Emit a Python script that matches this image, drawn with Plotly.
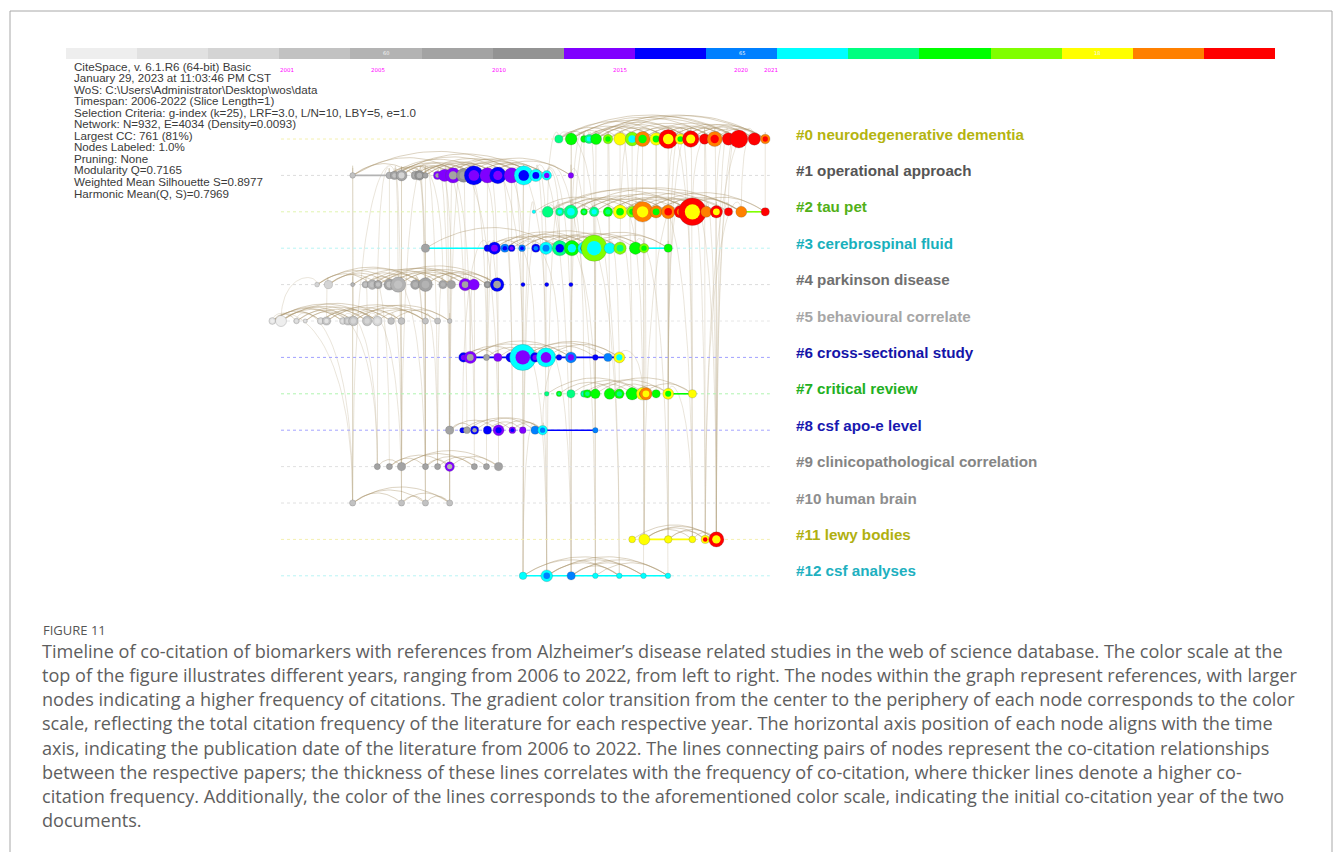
import numpy as np
import plotly.graph_objects as go

# ---------------- data ----------------
YEARS = list(range(2006, 2023))
YEAR_COLORS = ['#eeeeee', '#e1e1e1', '#d4d4d4', '#c2c2c2', '#b3b3b3', '#a3a3a3', '#939393',
               '#8000ff', '#0000ff', '#0080ff', '#00ffff', '#00ff80', '#00ff00', '#80ff00',
               '#ffff00', '#ff8000', '#ff0000']
BAR_NOTE_YEARS = [2010, 2015, 2020]
BAR_NOTE_TEXT = ['60', '65', '18']
TIMELINE_TICKS = [2001, 2005, 2010, 2015, 2020, 2021]
TIMELINE_SPAN = [2001, 2021.2]

CLUSTER_LABELS = ['#0 neurodegenerative dementia', '#1 operational approach', '#2 tau pet',
                  '#3 cerebrospinal fluid', '#4 parkinson disease', '#5 behavioural correlate',
                  '#6 cross-sectional study', '#7 critical review', '#8 csf apo-e level',
                  '#9 clinicopathological correlation', '#10 human brain', '#11 lewy bodies',
                  '#12 csf analyses']
CLUSTER_LABEL_COLORS = ['#b4b410', '#555555', '#52b018', '#18b0bc', '#707070', '#a6a6a6',
                        '#1414a8', '#22b022', '#1818b0', '#858585', '#8e8e8e', '#b0b010', '#20b0c0']
ROW_LINE_COLORS = ['#f4f0b0', '#dcdcdc', '#e0f4b0', '#b8f4f4', '#dcdcdc', '#e6e6e6', '#a0a0ff',
                   '#b0f4b0', '#a4a4ff', '#e0e0e0', '#e0e0e0', '#f4f0b0', '#b8f4f4']

# nodes: (year position, radius px, ring citation year, core citation year)
NODES_0 = [(2012.48, 4.1, 2017, 2017), (2012.99, 5.9, 2018, 2018), (2013.52, 3.4, 2018, 2018),
           (2013.73, 4.5, 2017, 2016), (2014.02, 5.5, 2018, 2018), (2014.51, 4.8, 2019, 2018),
           (2015.01, 6.2, 2020, 2020), (2015.51, 6.9, 2019, 2016), (2015.94, 7.6, 2021, 2018),
           (2016.50, 6.2, 2020, 2018), (2017.00, 9.6, 2022, 2020), (2017.50, 5.2, 2020, 2018),
           (2017.93, 8.3, 2022, 2020), (2018.50, 5.2, 2022, 2022), (2018.92, 7.6, 2021, 2022),
           (2019.49, 6.2, 2022, 2022), (2019.92, 9.0, 2022, 2022), (2020.56, 6.2, 2022, 2022),
           (2021.01, 4.8, 2021, 2022)]
NODES_1 = [(2003.96, 2.8, 2009, 2009), (2005.48, 3.4, 2010, 2010), (2005.69, 4.1, 2011, 2009),
           (2005.98, 5.5, 2011, 2008), (2006.55, 4.1, 2011, 2010), (2006.72, 4.8, 2012, 2010),
           (2006.97, 2.8, 2011, 2011), (2007.47, 4.1, 2013, 2011), (2007.76, 6.2, 2013, 2013),
           (2008.11, 7.6, 2013, 2011), (2008.54, 6.9, 2012, 2011), (2008.97, 9.6, 2014, 2013),
           (2009.53, 7.6, 2013, 2013), (2009.96, 8.3, 2014, 2013), (2010.53, 7.6, 2013, 2013),
           (2011.03, 9.6, 2016, 2014), (2011.53, 6.2, 2016, 2014), (2011.98, 4.8, 2016, 2013),
           (2012.98, 2.8, 2013, 2013)]
NODES_2 = [(2011.45, 1.8, 2016, 2016), (2012.02, 5.5, 2017, 2017), (2012.52, 4.1, 2017, 2016),
           (2012.98, 6.9, 2017, 2016), (2013.52, 3.4, 2018, 2017), (2013.94, 4.8, 2017, 2016),
           (2014.51, 4.8, 2018, 2017), (2015.01, 6.9, 2020, 2018), (2015.51, 5.5, 2019, 2018),
           (2015.94, 10.3, 2021, 2020), (2016.50, 6.2, 2021, 2018), (2017.00, 6.9, 2021, 2022),
           (2017.50, 6.2, 2022, 2021), (2018.00, 13.8, 2022, 2020), (2018.57, 5.5, 2021, 2021),
           (2018.99, 6.2, 2022, 2020), (2019.49, 4.1, 2022, 2022), (2020.02, 5.5, 2021, 2021),
           (2021.01, 4.1, 2022, 2022)]
NODES_3 = [(2006.97, 4.1, 2011, 2011), (2009.53, 3.4, 2014, 2014), (2009.82, 6.2, 2014, 2013),
           (2010.25, 4.1, 2015, 2014), (2010.53, 3.4, 2014, 2013), (2010.96, 3.4, 2015, 2014),
           (2011.53, 4.1, 2014, 2015), (2011.95, 6.2, 2016, 2015), (2012.52, 7.6, 2017, 2014),
           (2013.02, 7.6, 2018, 2016), (2013.52, 6.2, 2016, 2014), (2013.94, 13.1, 2019, 2016),
           (2014.58, 5.5, 2016, 2016), (2015.01, 6.2, 2019, 2017), (2015.65, 6.2, 2018, 2018),
           (2016.00, 4.8, 2019, 2018), (2017.00, 4.1, 2018, 2018)]
NODES_4 = [(2002.49, 2.4, 2008, 2008), (2002.96, 4.1, 2008, 2008), (2003.96, 2.1, 2010, 2010),
           (2004.49, 3.4, 2010, 2009), (2004.77, 4.8, 2010, 2009), (2005.01, 4.1, 2011, 2009),
           (2005.48, 5.5, 2011, 2009), (2005.84, 7.6, 2010, 2009), (2006.55, 4.8, 2011, 2010),
           (2006.97, 6.9, 2011, 2010), (2007.69, 4.1, 2011, 2010), (2008.04, 4.1, 2011, 2011),
           (2008.61, 6.2, 2013, 2011), (2008.97, 5.5, 2013, 2013), (2009.53, 3.4, 2012, 2011),
           (2009.93, 6.9, 2014, 2011), (2011.00, 2.1, 2014, 2014), (2011.98, 2.1, 2014, 2014),
           (2012.98, 2.1, 2014, 2014)]
NODES_5 = [(2000.64, 3.4, 2007, 2006), (2001.00, 5.5, 2006, 2006), (2001.64, 2.8, 2008, 2007),
           (2002.00, 2.1, 2008, 2007), (2002.64, 3.4, 2008, 2007), (2002.88, 4.1, 2009, 2007),
           (2003.56, 3.4, 2008, 2007), (2003.77, 4.1, 2009, 2008), (2003.99, 4.8, 2009, 2008),
           (2004.56, 4.8, 2009, 2008), (2004.98, 4.8, 2008, 2007), (2005.55, 3.4, 2009, 2009),
           (2005.98, 3.4, 2009, 2009), (2006.97, 3.1, 2009, 2009), (2007.47, 3.1, 2009, 2009),
           (2007.97, 2.4, 2009, 2009)]
NODES_6 = [(2008.54, 4.8, 2014, 2013), (2008.82, 6.2, 2013, 2011), (2009.49, 3.1, 2011, 2011),
           (2009.96, 4.1, 2013, 2013), (2010.49, 4.8, 2014, 2014), (2010.99, 13.1, 2016, 2013),
           (2011.50, 4.8, 2014, 2013), (2011.95, 9.6, 2016, 2013), (2012.49, 2.8, 2014, 2014),
           (2012.98, 5.5, 2015, 2013), (2013.99, 2.8, 2014, 2014), (2014.51, 4.1, 2015, 2015),
           (2014.98, 5.5, 2020, 2016)]
NODES_7 = [(2011.98, 2.4, 2017, 2017), (2012.49, 2.8, 2018, 2017), (2012.98, 4.1, 2017, 2017),
           (2013.52, 3.4, 2017, 2016), (2013.66, 4.1, 2018, 2017), (2013.99, 4.8, 2018, 2018),
           (2014.58, 5.5, 2018, 2018), (2014.98, 4.8, 2018, 2017), (2015.51, 6.2, 2018, 2018),
           (2015.94, 6.2, 2020, 2018), (2016.08, 6.2, 2021, 2020), (2016.50, 4.1, 2018, 2018),
           (2017.00, 5.5, 2020, 2018), (2018.00, 4.1, 2020, 2020)]
NODES_8 = [(2007.97, 4.1, 2011, 2011), (2008.50, 2.8, 2014, 2014), (2008.68, 3.4, 2011, 2011),
           (2009.00, 4.1, 2014, 2011), (2009.53, 4.1, 2014, 2014), (2009.99, 5.5, 2013, 2014),
           (2010.56, 3.4, 2013, 2014), (2010.99, 3.4, 2013, 2013), (2011.50, 4.1, 2015, 2015),
           (2011.81, 4.8, 2016, 2015), (2013.99, 2.8, 2015, 2015)]
NODES_9 = [(2004.98, 3.1, 2011, 2011), (2005.48, 3.1, 2011, 2011), (2005.98, 4.1, 2011, 2011),
           (2006.97, 3.1, 2011, 2011), (2007.47, 3.1, 2011, 2011), (2007.97, 4.8, 2013, 2010),
           (2008.99, 3.1, 2011, 2011), (2009.49, 3.1, 2011, 2011), (2009.99, 4.1, 2011, 2011)]
NODES_10 = [(2003.96, 3.1, 2009, 2009), (2005.98, 3.1, 2009, 2009), (2006.97, 3.1, 2009, 2009),
            (2007.97, 3.1, 2009, 2009)]
NODES_11 = [(2015.51, 3.4, 2020, 2020), (2016.01, 5.5, 2020, 2020), (2017.00, 3.8, 2020, 2020),
            (2018.00, 3.4, 2020, 2020), (2018.53, 4.1, 2020, 2022), (2018.99, 7.6, 2022, 2020)]
NODES_12 = [(2011.00, 3.8, 2016, 2016), (2011.98, 5.9, 2016, 2015), (2012.99, 4.1, 2015, 2015),
            (2013.99, 2.8, 2016, 2016), (2014.98, 2.8, 2016, 2016), (2015.98, 2.8, 2016, 2016),
            (2016.99, 2.8, 2016, 2016)]

# solid row segments: (cluster, from year, to year, colour year)
SEGMENTS = [(1, 2003.96, 2005.48, 2010), (2, 2020.02, 2021.01, 2019), (3, 2006.97, 2009.53, 2016),
            (3, 2016.00, 2017.00, 2016), (6, 2008.54, 2014.98, 2014), (7, 2017.00, 2018.00, 2018),
            (8, 2011.81, 2013.99, 2014), (11, 2016.01, 2018.00, 2020), (12, 2011.00, 2016.99, 2016)]

# co-citation arcs inside clusters (node index pairs)
ARCS_0 = [(0, 10), (1, 12), (3, 16), (5, 18), (6, 14), (8, 16), (10, 17), (12, 18), (2, 9), (4, 11),
          (7, 13), (9, 15), (11, 18), (1, 8), (0, 6), (13, 17), (6, 10), (3, 12),
          (0, 3), (1, 5), (2, 7), (4, 9), (5, 10), (7, 12), (8, 13), (9, 14), (10, 15), (11, 16),
          (12, 17), (14, 18), (0, 16), (2, 18), (1, 14), (4, 15)]
ARCS_1 = [(0, 15), (1, 12), (2, 14), (3, 11), (4, 9), (5, 13), (7, 16), (8, 17), (9, 15), (10, 18),
          (11, 16), (12, 17), (3, 8), (1, 6), (6, 13), (2, 10),
          (0, 4), (1, 5), (2, 7), (3, 9), (4, 10), (5, 11), (6, 12), (7, 13), (8, 14), (9, 16),
          (11, 17), (12, 18), (0, 10), (2, 16), (5, 15)]
ARCS_2 = [(1, 13), (3, 11), (5, 15), (7, 17), (9, 18), (2, 9), (4, 13), (8, 14), (10, 16), (11, 17),
          (6, 12), (0, 7), (1, 5), (2, 8), (3, 9), (4, 10), (5, 11), (6, 13), (7, 14), (9, 15),
          (10, 17), (12, 18), (1, 16), (3, 17)]
ARCS_3 = [(2, 11), (4, 13), (7, 14), (8, 15), (3, 9), (6, 12), (9, 16), (1, 7), (5, 10),
          (1, 5), (2, 8), (3, 10), (5, 11), (7, 12), (8, 13), (10, 15), (11, 16), (0, 8)]
ARCS_4 = [(0, 7), (1, 9), (2, 8), (3, 12), (4, 13), (5, 15), (6, 11), (7, 14), (9, 15), (1, 5),
          (3, 7), (8, 13), (0, 4), (1, 6), (2, 10), (4, 9), (5, 11), (6, 13), (7, 12), (9, 14),
          (10, 15), (0, 9)]
ARCS_5 = [(0, 8), (1, 9), (1, 11), (2, 10), (3, 7), (4, 12), (5, 13), (6, 14), (8, 15), (0, 4),
          (9, 13), (1, 6), (0, 2), (0, 6), (1, 4), (2, 8), (3, 9), (4, 10), (5, 11), (7, 12),
          (8, 13), (10, 14), (11, 15), (0, 10)]
ARCS_6 = [(0, 5), (1, 7), (3, 9), (5, 11), (4, 8), (5, 12), (2, 6), (6, 10), (0, 3), (1, 9), (7, 12)]
ARCS_7 = [(0, 9), (2, 10), (4, 12), (5, 13), (6, 11), (3, 8), (8, 12), (1, 7), (9, 13)]
ARCS_8 = [(0, 5), (2, 8), (3, 9), (1, 6), (4, 7), (5, 9), (0, 3), (6, 9)]
ARCS_9 = [(1, 5), (2, 6), (2, 8), (3, 5), (4, 7), (0, 2), (5, 8), (1, 3), (3, 6)]
ARCS_10 = [(0, 1), (0, 2), (0, 3), (1, 2), (1, 3), (2, 3)]
ARCS_11 = [(1, 5), (2, 4), (1, 4), (3, 5), (0, 5), (1, 3), (2, 5)]
ARCS_12 = [(1, 6), (1, 5), (2, 5), (2, 6), (0, 4), (3, 6), (1, 4), (2, 4), (0, 5)]

# co-citation links between clusters: (cluster a, node a, cluster b, node b)
LINKS = [(0, 0, 2, 1), (0, 1, 2, 3), (0, 2, 3, 9), (0, 3, 7, 2), (0, 4, 7, 5), (0, 5, 2, 6),
         (0, 6, 7, 8), (0, 7, 3, 13), (0, 8, 2, 9), (0, 9, 7, 11), (0, 10, 11, 2), (0, 11, 2, 11),
         (0, 12, 11, 3), (0, 13, 11, 4), (0, 14, 11, 5), (0, 15, 2, 15), (0, 16, 11, 5),
         (0, 17, 2, 17), (0, 12, 7, 12), (0, 10, 7, 13),
         (0, 0, 3, 11), (0, 1, 3, 9), (0, 2, 2, 4), (0, 3, 2, 5), (0, 5, 3, 12), (0, 6, 2, 7),
         (0, 7, 2, 8), (0, 8, 3, 14), (0, 9, 2, 10), (0, 11, 7, 12), (0, 13, 2, 14), (0, 14, 2, 13),
         (0, 16, 2, 16), (0, 18, 2, 18), (0, 15, 11, 5), (0, 17, 11, 4), (0, 11, 11, 3),
         (1, 0, 5, 8), (1, 0, 10, 0), (1, 1, 4, 6), (1, 2, 9, 2), (1, 3, 5, 12), (1, 4, 4, 9),
         (1, 5, 9, 3), (1, 6, 10, 2), (1, 7, 10, 3), (1, 8, 6, 1), (1, 9, 8, 0), (1, 10, 9, 5),
         (1, 11, 8, 3), (1, 12, 6, 5), (1, 13, 8, 6), (1, 14, 6, 7), (1, 15, 12, 0), (1, 16, 12, 1),
         (1, 17, 3, 8), (1, 18, 12, 2), (1, 11, 3, 2), (1, 13, 3, 5), (1, 15, 6, 5), (1, 9, 9, 8),
         (1, 7, 4, 11),
         (1, 1, 5, 10), (1, 2, 4, 7), (1, 3, 9, 2), (1, 4, 5, 13), (1, 5, 4, 10), (1, 6, 9, 4),
         (1, 8, 8, 2), (1, 10, 6, 2), (1, 12, 8, 4), (1, 14, 3, 4), (1, 16, 3, 7), (1, 17, 6, 9),
         (1, 18, 3, 10), (1, 8, 10, 3), (1, 6, 10, 1), (1, 2, 10, 0), (1, 10, 4, 12), (1, 12, 4, 15),
         (1, 14, 8, 7), (1, 16, 12, 2), (1, 17, 12, 3),
         (2, 0, 12, 0), (2, 1, 3, 8), (2, 3, 7, 3), (2, 5, 12, 3), (2, 7, 7, 9), (2, 9, 11, 1),
         (2, 11, 11, 2), (2, 13, 11, 5), (2, 13, 11, 4), (2, 12, 7, 12), (2, 14, 11, 5), (2, 8, 3, 14),
         (2, 2, 12, 1), (2, 4, 12, 4), (2, 6, 7, 6), (2, 10, 11, 3), (2, 15, 11, 5), (2, 16, 11, 5),
         (2, 17, 11, 4), (2, 12, 11, 1), (2, 9, 7, 10),
         (3, 0, 4, 9), (3, 2, 8, 4), (3, 4, 6, 6), (3, 6, 12, 0), (3, 7, 6, 7), (3, 9, 12, 2),
         (3, 11, 7, 5), (3, 11, 12, 3), (3, 13, 7, 8), (3, 15, 12, 5), (3, 16, 7, 12), (3, 8, 8, 10),
         (3, 1, 6, 3), (3, 3, 8, 6), (3, 5, 6, 8), (3, 10, 12, 4), (3, 12, 7, 7), (3, 14, 12, 6),
         (3, 1, 8, 1),
         (4, 0, 5, 1), (4, 3, 5, 9), (4, 5, 9, 0), (4, 7, 10, 1), (4, 9, 9, 3), (4, 11, 9, 5),
         (4, 13, 6, 1), (4, 15, 8, 5), (4, 6, 10, 2), (4, 12, 9, 6), (4, 1, 5, 5), (4, 2, 10, 0),
         (4, 4, 9, 1), (4, 8, 9, 3), (4, 10, 9, 4), (4, 14, 9, 7), (4, 8, 10, 2),
         (5, 0, 10, 0), (5, 5, 9, 0), (5, 9, 10, 1), (5, 13, 9, 4), (5, 2, 10, 0), (5, 6, 9, 0),
         (5, 11, 9, 2), (5, 15, 10, 3),
         (6, 5, 12, 1), (6, 7, 12, 2), (6, 9, 8, 9), (6, 12, 7, 9), (6, 3, 8, 5),
         (7, 9, 11, 1), (7, 12, 11, 3), (8, 8, 12, 0), (8, 9, 12, 1), (9, 5, 10, 3)]

META_LINES = ['CiteSpace, v. 6.1.R6 (64-bit) Basic',
              'January 29, 2023 at 11:03:46 PM CST',
              'WoS: C:\\Users\\Administrator\\Desktop\\wos\\data',
              'Timespan: 2006-2022 (Slice Length=1)',
              'Selection Criteria: g-index (k=25), LRF=3.0, L/N=10, LBY=5, e=1.0',
              'Network: N=932, E=4034 (Density=0.0093)',
              'Largest CC: 761 (81%)',
              'Nodes Labeled: 1.0%',
              'Pruning: None',
              'Modularity Q=0.7165',
              'Weighted Mean Silhouette S=0.8977',
              'Harmonic Mean(Q, S)=0.7969']

CAPTION_TITLE = 'FIGURE 11'
CAPTION_LINES = [
    'Timeline of co-citation of biomarkers with references from Alzheimer\u2019s disease related studies in the web of science database. The color scale at the',
    'top of the figure illustrates different years, ranging from 2006 to 2022, from left to right. The nodes within the graph represent references, with larger',
    'nodes indicating a higher frequency of citations. The gradient color transition from the center to the periphery of each node corresponds to the color',
    'scale, reflecting the total citation frequency of the literature for each respective year. The horizontal axis position of each node aligns with the time',
    'axis, indicating the publication date of the literature from 2006 to 2022. The lines connecting pairs of nodes represent the co-citation relationships',
    'between the respective papers; the thickness of these lines correlates with the frequency of co-citation, where thicker lines denote a higher co-',
    'citation frequency. Additionally, the color of the lines corresponds to the aforementioned color scale, indicating the initial co-citation year of the two',
    'documents.']

NODES = [NODES_0, NODES_1, NODES_2, NODES_3, NODES_4, NODES_5, NODES_6, NODES_7, NODES_8,
         NODES_9, NODES_10, NODES_11, NODES_12]
ARCS = [ARCS_0, ARCS_1, ARCS_2, ARCS_3, ARCS_4, ARCS_5, ARCS_6, ARCS_7, ARCS_8, ARCS_9,
        ARCS_10, ARCS_11, ARCS_12]

# ---------------- layout geometry ----------------
W, H = 1333, 852
PX_PER_YEAR = 24.2
X0_PX = 281.0          # pixel of 2001 on the timeline
ROW0_PX = 139.0        # pixel of cluster row 0
ROW_PX = 36.4


def ycol(yr):
    return YEAR_COLORS[YEARS.index(yr)]


def px_x(p):
    return p / W


def px_y(p):
    return 1 - p / H


x_range = [2001 - X0_PX / PX_PER_YEAR, 2001 + (W - X0_PX) / PX_PER_YEAR]
y_range = [(H - ROW0_PX) / ROW_PX, -ROW0_PX / ROW_PX]

fig = go.Figure()

# inter-cluster links (cubic curves rising above the upper row)
t = np.linspace(0, 1, 36)
lx, ly = [], []
for ca, ia, cb, ib in LINKS:
    xa, ya = NODES[ca][ia][0], ca
    xb, yb = NODES[cb][ib][0], cb
    h = 0.3 + 0.045 * (yb - ya)
    bx = (1 - t) ** 3 * xa + 3 * (1 - t) ** 2 * t * xa + 3 * (1 - t) * t ** 2 * xb + t ** 3 * xb
    by = (1 - t) ** 3 * ya + 3 * (1 - t) ** 2 * t * (ya - h) + 3 * (1 - t) * t ** 2 * (ya - h) + t ** 3 * yb
    lx += list(bx) + [None]
    ly += list(by) + [None]
fig.add_trace(go.Scatter(x=lx, y=ly, mode='lines', line=dict(color='rgba(188,174,142,0.40)', width=0.8),
                         hoverinfo='skip'))

# dotted row lines
for i, col in enumerate(ROW_LINE_COLORS):
    fig.add_trace(go.Scatter(x=TIMELINE_SPAN, y=[i, i], mode='lines',
                             line=dict(color=col, width=1, dash='dot'), hoverinfo='skip'))

# intra-cluster arcs
t2 = np.linspace(0, 1, 30)
ax, ay = [], []
for row, (nodes, arcs) in enumerate(zip(NODES, ARCS)):
    for i, j in arcs:
        x1, x2 = nodes[i][0], nodes[j][0]
        peak = min(4 + 3.0 * abs(x2 - x1), 24) / ROW_PX
        cx = (x1 + x2) / 2
        bx = (1 - t2) ** 2 * x1 + 2 * (1 - t2) * t2 * cx + t2 ** 2 * x2
        by = row - 2 * peak * 2 * (1 - t2) * t2
        ax += list(bx) + [None]
        ay += list(by) + [None]
fig.add_trace(go.Scatter(x=ax, y=ay, mode='lines', line=dict(color='rgba(168,146,104,0.45)', width=0.9),
                         hoverinfo='skip'))

# solid segments
for row, a, b, cy in SEGMENTS:
    fig.add_trace(go.Scatter(x=[a, b], y=[row, row], mode='lines', line=dict(color=ycol(cy), width=1.6),
                             hoverinfo='skip'))

# nodes: ring then core, in order
nx, ny, ns, nc, nlw = [], [], [], [], []
for row, nodes in enumerate(NODES):
    for yr, r, ring, core in nodes:
        nx += [yr, yr]
        ny += [row, row]
        ns += [2 * r, 1.1 * r]
        nc += [ycol(ring), ycol(core)]
        nlw += [0.6, 0]
fig.add_trace(go.Scatter(x=nx, y=ny, mode='markers',
                         marker=dict(size=ns, color=nc, opacity=1,
                                     line=dict(color='rgba(70,70,70,0.35)', width=nlw)),
                         hoverinfo='skip'))

# colour bar (years legend)
fig.add_trace(go.Bar(x=YEARS, y=[1] * len(YEARS), width=1, marker=dict(color=YEAR_COLORS, line=dict(width=0)),
                     xaxis='x2', yaxis='y2', hoverinfo='skip'))

annotations = []
# cluster labels
for i, (lab, col) in enumerate(zip(CLUSTER_LABELS, CLUSTER_LABEL_COLORS)):
    annotations.append(dict(x=px_x(794), xref='paper', y=i, yref='y', yshift=5, text='<b>' + lab + '</b>',
                            showarrow=False, xanchor='left', yanchor='middle',
                            font=dict(family='Liberation Sans', size=15.2, color=col)))
# meta text block
for k, line in enumerate(META_LINES):
    annotations.append(dict(x=px_x(73), xref='paper', y=px_y(66 + 11.55 * k), yref='paper', text=line,
                            showarrow=False, xanchor='left', yanchor='middle', borderpad=0,
                            font=dict(family='Liberation Sans', size=11.6, color='#3a3a3a')))
# timeline year ticks (magenta)
for yr in TIMELINE_TICKS:
    shift = 6 if yr in (2001, 2021) else 0
    annotations.append(dict(x=yr, xref='x', xshift=shift, y=px_y(70), yref='paper', text=str(yr),
                            showarrow=False, xanchor='center', yanchor='middle',
                            font=dict(family='DejaVu Sans', size=5.5, color='#ff00ff')))
# notes inside the bar
for yr, txt in zip(BAR_NOTE_YEARS, BAR_NOTE_TEXT):
    annotations.append(dict(x=yr, xref='x2', y=0.5, yref='y2', text=txt, showarrow=False,
                            font=dict(family='DejaVu Sans', size=5, color='#f4f4f4')))
# caption
annotations.append(dict(x=px_x(41), xref='paper', y=px_y(630), yref='paper', text=CAPTION_TITLE,
                        showarrow=False, xanchor='left', yanchor='middle',
                        font=dict(family='Open Sans', size=13, color='#555555')))
for k, line in enumerate(CAPTION_LINES):
    annotations.append(dict(x=px_x(40), xref='paper', y=px_y(651 + 24.15 * k), yref='paper', text=line,
                            showarrow=False, xanchor='left', yanchor='middle',
                            font=dict(family='Open Sans', size=18.1, color='#5e5e5e')))

shapes = [
    dict(type='line', xref='paper', yref='paper', x0=px_x(10), x1=px_x(1332), y0=px_y(11), y1=px_y(11),
         line=dict(color='#a8a8a8', width=1)),
    dict(type='line', xref='paper', yref='paper', x0=px_x(10), x1=px_x(10), y0=px_y(11), y1=0,
         line=dict(color='#a8a8a8', width=1)),
    dict(type='line', xref='paper', yref='paper', x0=px_x(1332), x1=px_x(1332), y0=px_y(11), y1=0,
         line=dict(color='#a8a8a8', width=1)),
]

fig.update_layout(
    width=W, height=H, margin=dict(l=0, r=0, t=0, b=0),
    paper_bgcolor='white', plot_bgcolor='white', showlegend=False, hovermode=False,
    font=dict(family='Liberation Sans'),
    bargap=0,
    xaxis=dict(range=x_range, domain=[0, 1], visible=False, fixedrange=True),
    yaxis=dict(range=y_range, domain=[0, 1], visible=False, fixedrange=True),
    xaxis2=dict(range=[2005.5, 2022.5], domain=[px_x(66), px_x(1275)], visible=False, anchor='y2',
                fixedrange=True),
    yaxis2=dict(range=[0, 1], domain=[px_y(59), px_y(47.5)], visible=False, anchor='x2', fixedrange=True),
    annotations=annotations, shapes=shapes,
)

fig.write_html('out.html', config={'displayModeBar': False},
               post_script="document.body.style.margin='0';document.body.style.overflow='hidden';")
